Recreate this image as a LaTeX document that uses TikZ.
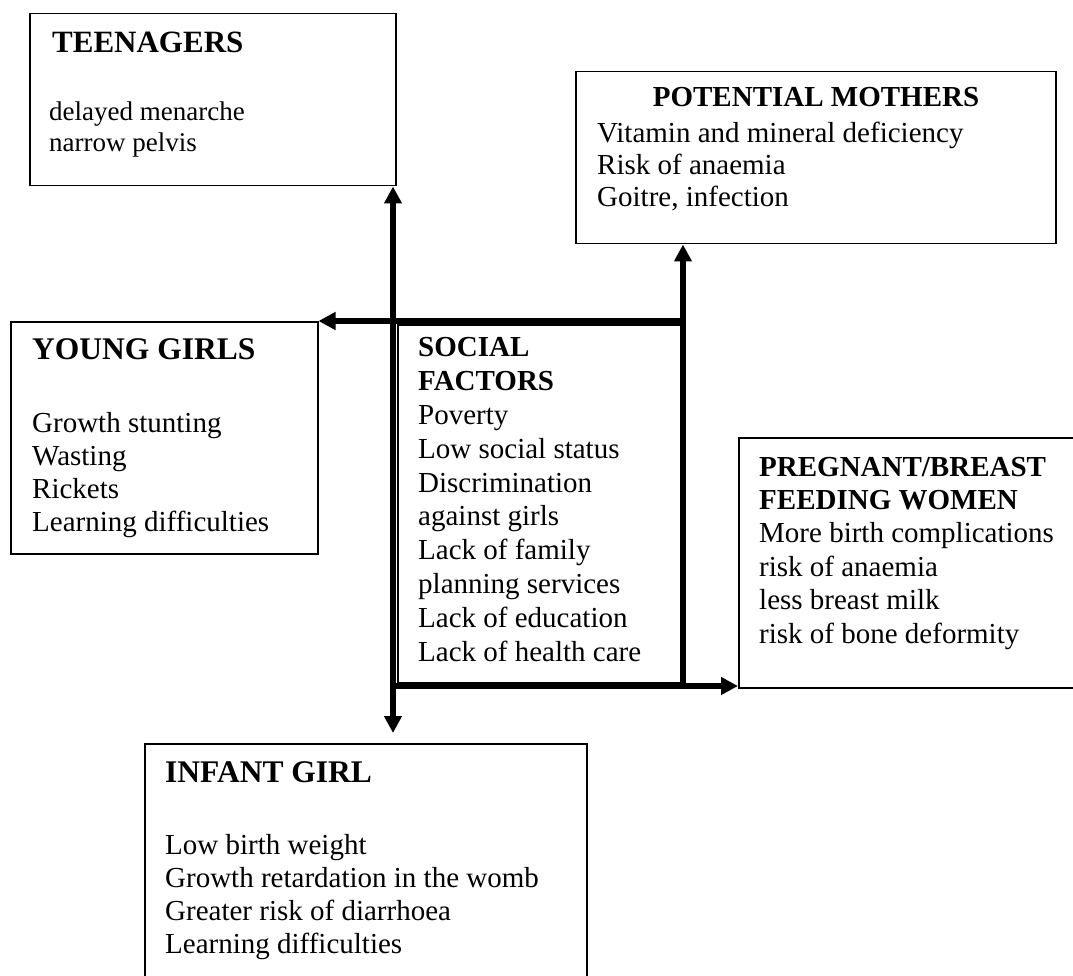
\documentclass[tikz,border=0pt]{standalone}
\usepackage{fontspec}
\setmainfont{Liberation Serif}
\usetikzlibrary{arrows.meta}
\tikzset{
  box/.style={draw=black, line width=1.5pt, inner sep=0pt, anchor=north west},
  txt/.style={inner sep=0pt, anchor=base west, align=left},
  link/.style={line width=5.6pt, -{Triangle[length=17pt,width=17pt]}}
}
\begin{document}
\begin{tikzpicture}[x=1pt,y=-1pt]
\useasboundingbox (0,0) rectangle (1073,976);
% boxes
\node[box, minimum width=366pt, minimum height=172pt] (teen) at (29,13) {};
\node[box, minimum width=480pt, minimum height=172pt] (pot) at (575,71) {};
\node[box, minimum width=307pt, minimum height=232pt] (young) at (10,321) {};
\node[box, minimum width=283pt, minimum height=358pt] (social) at (397,324) {};
\node[box, minimum width=360pt, minimum height=250pt] (preg) at (738,437) {};
\node[box, minimum width=442pt, minimum height=260pt] (infant) at (144,743) {};
% texts (multi-line nodes: base anchor = last line's baseline)
\node[txt, font=\fontsize{31}{31}\selectfont\bfseries] (teenh) at (52,53) {TEENAGERS};
\node[txt, font=\fontsize{27}{31}\selectfont] (teenb) at (49,152) {delayed menarche\\narrow pelvis};
\node[txt, anchor=base, font=\fontsize{29}{29}\selectfont\bfseries] (poth) at (816,107) {POTENTIAL MOTHERS};
\node[txt, font=\fontsize{29}{32}\selectfont] (potb) at (597,207) {Vitamin and mineral deficiency\\Risk of anaemia\\Goitre, infection};
\node[txt, font=\fontsize{31.5}{31.5}\selectfont\bfseries] (youngh) at (32,359) {YOUNG GIRLS};
\node[txt, font=\fontsize{29}{33}\selectfont] (youngb) at (32,531) {Growth stunting\\Wasting\\Rickets\\Learning difficulties};
\node[txt, font=\fontsize{29}{33.8}\selectfont] (socialt) at (418,661) {\textbf{SOCIAL}\\\textbf{FACTORS}\\Poverty\\Low social status\\Discrimination\\against girls\\Lack of family\\planning services\\Lack of education\\Lack of health care};
\node[txt, font=\fontsize{29}{33.4}\selectfont] (pregt) at (759,643) {\textbf{PREGNANT/BREAST}\\\textbf{FEEDING WOMEN}\\More birth complications\\risk of anaemia\\less breast milk\\risk of bone deformity};
\node[txt, font=\fontsize{31.5}{31.5}\selectfont\bfseries] (infanth) at (165,782) {INFANT GIRL};
\node[txt, font=\fontsize{29}{32.7}\selectfont] (infantb) at (165,953) {Low birth weight\\Growth retardation in the womb\\Greater risk of diarrhoea\\Learning difficulties};
% frame corners
\coordinate (tr) at (683,321);
\coordinate (bl) at (393,686);
\coordinate (br) at (683,686);
% connectors
\draw[link] (bl) -- (bl |- teen.south);
\draw[link, shorten >=10pt] (bl) -- (bl |- infant.north);
\draw[link] (tr) -- (young.east |- tr);
\draw[link] (br) -- (br |- pot.south);
\draw[link] (bl) -- (preg.west |- bl);
\end{tikzpicture}
\end{document}
